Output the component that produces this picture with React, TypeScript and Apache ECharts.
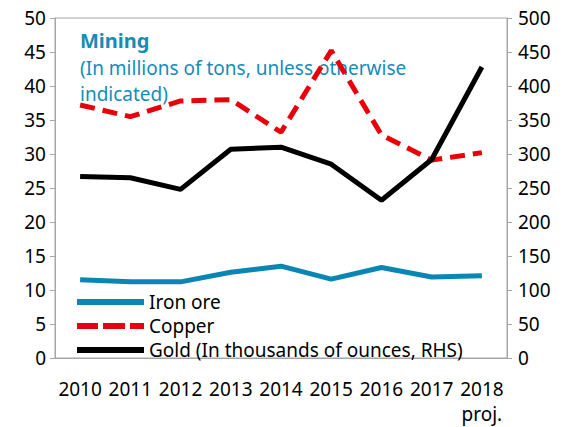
import React, { useEffect, useRef } from "react";
import * as echarts from "echarts";

const years = ["2010", "2011", "2012", "2013", "2014", "2015", "2016", "2017", "2018\nproj."];
const ironOre = [11.5, 11.2, 11.2, 12.6, 13.5, 11.6, 13.3, 11.9, 12.1];
const copper = [37.2, 35.5, 37.8, 38.0, 33.2, 45.2, 32.8, 29.1, 30.2];
const gold = [267, 265, 248, 307, 310, 285, 232, 292, 428];

const leftTicks = { min: 0, max: 50, interval: 5 };
const rightTicks = { min: 0, max: 500, interval: 50 };

const FONT = "'Noto Sans', sans-serif";
const TEAL = "#168cb8";
const GRAY = "#a6a6a6";

const SOLID_ICON = "path://M0,0h67v6h-67z";
const DASH_ICON = "path://M0,0h21v6h-21z M26,0h22v6h-22z M53,0h14v6h-14z";

export default function App() {
  const ref = useRef<HTMLDivElement>(null);
  useEffect(() => {
    document.body.style.margin = "0";
    if (!ref.current) return;
    const chart = echarts.init(ref.current, null, { renderer: "svg" });
    chart.setOption({
      animation: false,
      textStyle: { fontFamily: FONT },
      grid: {
        left: 55, right: 59, top: 18, bottom: 69,
        show: true, borderColor: GRAY, borderWidth: 1,
      },
      graphic: [
        {
          type: "text", left: 80, top: 30,
          style: { text: "Mining", font: `bold 20px ${FONT}`, fill: TEAL },
        },
        {
          type: "text", left: 80, top: 55,
          style: {
            text: "(In millions of tons, unless otherwise\nindicated)",
            font: `19px ${FONT}`, fill: TEAL, lineHeight: 26,
          },
        },
      ],
      legend: {
        orient: "vertical", left: 72, top: 287,
        itemWidth: 67, itemHeight: 6, itemGap: 4,
        textStyle: { fontSize: 19, lineHeight: 20, color: "#000", fontFamily: FONT },
        data: [
          { name: "Iron ore", icon: SOLID_ICON },
          { name: "Copper", icon: DASH_ICON },
          { name: "Gold (In thousands of ounces, RHS)", icon: SOLID_ICON },
        ],
      },
      xAxis: {
        type: "category", data: years, boundaryGap: true,
        axisLine: { lineStyle: { color: GRAY } },
        axisTick: { inside: true, length: 7, lineStyle: { color: GRAY } },
        axisLabel: { color: "#000", fontSize: 19, margin: 18, lineHeight: 25, interval: 0 },
      },
      yAxis: [
        {
          type: "value", ...leftTicks, position: "left",
          axisLine: { show: true, lineStyle: { color: GRAY } },
          axisTick: { show: true, length: 5, lineStyle: { color: GRAY } },
          splitLine: { show: false },
          axisLabel: { color: "#000", fontSize: 19, margin: 9 },
        },
        {
          type: "value", ...rightTicks, position: "right",
          axisLine: { show: true, lineStyle: { color: GRAY } },
          axisTick: { show: true, length: 5, lineStyle: { color: GRAY } },
          splitLine: { show: false },
          axisLabel: { color: "#000", fontSize: 19, margin: 11 },
        },
      ],
      series: [
        {
          name: "Iron ore", type: "line", data: ironOre, yAxisIndex: 0,
          symbol: "none", color: "#0a86b4",
          lineStyle: { width: 5, color: "#0a86b4" },
        },
        {
          name: "Copper", type: "line", data: copper, yAxisIndex: 0,
          symbol: "none", color: "#e8000b",
          lineStyle: { width: 5, color: "#e8000b", type: [15, 8] },
        },
        {
          name: "Gold (In thousands of ounces, RHS)", type: "line", data: gold, yAxisIndex: 1,
          symbol: "none", color: "#000",
          lineStyle: { width: 5, color: "#000" },
        },
      ],
    });
    return () => chart.dispose();
  }, []);
  return <div ref={ref} style={{ width: 566, height: 427 }} />;
}
